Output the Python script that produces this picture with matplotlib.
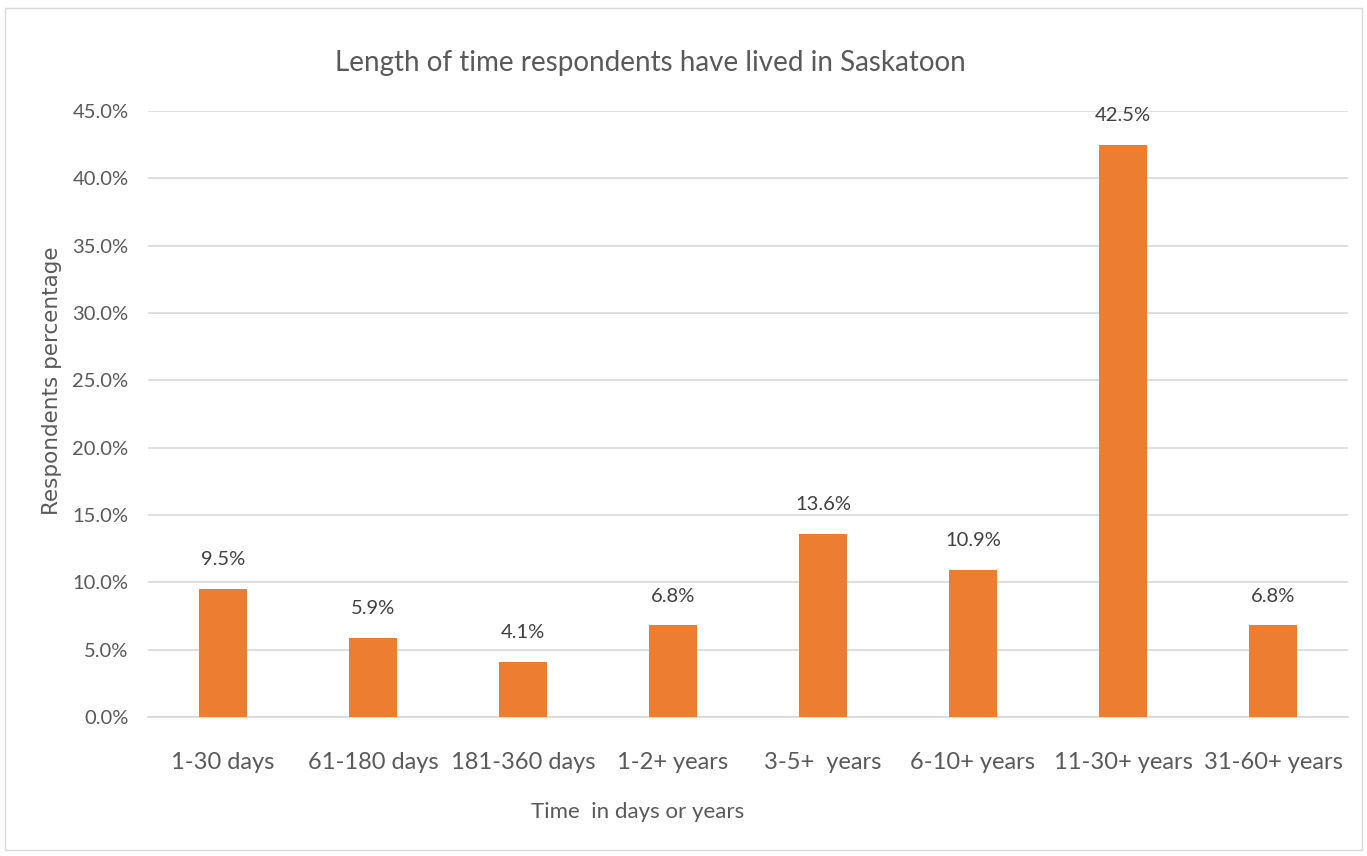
import matplotlib
matplotlib.use("Agg")
import matplotlib.pyplot as plt
from matplotlib.patches import Rectangle
from matplotlib.ticker import FuncFormatter, MultipleLocator

categories = ["1-30 days", "61-180 days", "181-360 days", "1-2+ years",
              "3-5+  years", "6-10+ years", "11-30+ years", "31-60+ years"]
values = [9.5, 5.9, 4.1, 6.8, 13.6, 10.9, 42.5, 6.8]
title = "Length of time respondents have lived in Saskatoon"
xlabel = "Time  in days or years"
ylabel = "Respondents percentage"

plt.rcParams['font.family'] = ['Lato', 'DejaVu Sans']

fig = plt.figure(figsize=(13.67, 8.56), dpi=100)
fig.patches.append(Rectangle((5/1367, 1-850/856), 1357/1367, 842/856,
                             transform=fig.transFigure, fill=False,
                             edgecolor="#d9d9d9", linewidth=1))

ax = fig.add_axes([148/1367, 1-717/856, 1200/1367, 606/856])
x = list(range(len(categories)))
bars = ax.bar(x, values, width=0.32, color="#ed7d31", zorder=3)
ax.set_xlim(-0.5, len(categories) - 0.5)
ax.set_ylim(0, 45)
ax.yaxis.set_major_locator(MultipleLocator(5))
ax.yaxis.set_major_formatter(FuncFormatter(lambda v, p: f"{v:.1f}%"))
ax.grid(axis="y", color="#d9d9d9", linewidth=1.2, zorder=0)
for s in ["top", "right", "left"]:
    ax.spines[s].set_visible(False)
ax.spines["bottom"].set_color("#d9d9d9")
ax.spines["bottom"].set_linewidth(1.2)
ax.tick_params(axis="both", length=0, colors="#595959", labelsize=14.5)
ax.tick_params(axis="y", pad=14)
ax.tick_params(axis="x", pad=25, labelsize=17)
ax.set_xticks(x)
ax.set_xticklabels(categories)

for xi, v in zip(x, values):
    ax.annotate(f"{v:.1f}%", (xi, v), xytext=(0, 15), textcoords="offset points",
                ha="center", va="bottom", fontsize=14.5, color="#404040")

fig.text(650/1367, 1-63/856, title, ha="center", va="center",
         fontsize=20, color="#595959")
fig.text(638/1367, 1-812/856, xlabel, ha="center", va="center",
         fontsize=16, color="#595959")
fig.text(52/1367, 1-381/856, ylabel, ha="center", va="center",
         rotation=90, fontsize=15.5, color="#595959", family="DejaVu Sans")

fig.savefig("out.png", dpi=100)
